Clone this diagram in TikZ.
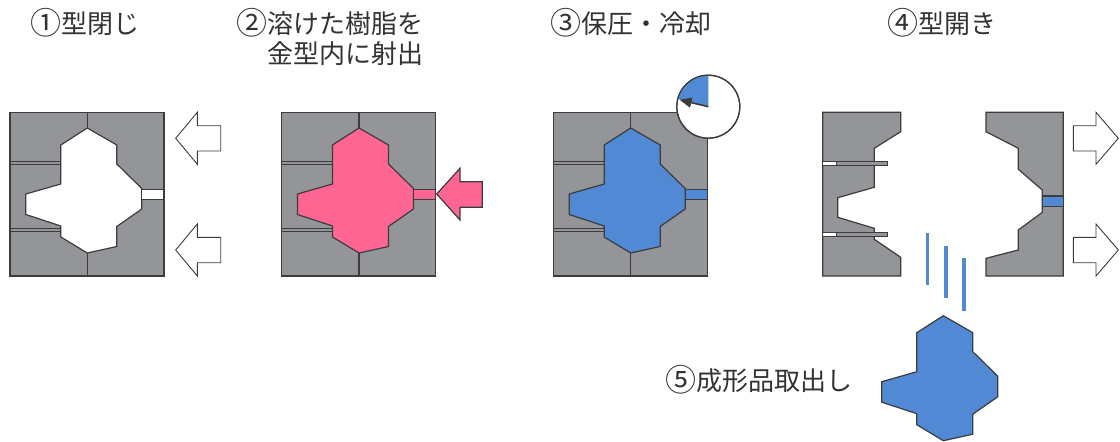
\documentclass[tikz,border=0pt]{standalone}
\usepackage{fontspec}
\newfontfamily\jp{Noto Sans CJK JP}
\usetikzlibrary{arrows.meta}
\definecolor{moldgray}{HTML}{939598}
\definecolor{edgegray}{HTML}{3C3C3C}
\definecolor{resin}{HTML}{FF6694}
\definecolor{cooled}{HTML}{5189D4}
\definecolor{txt}{HTML}{333333}

\tikzset{
  outline/.style={draw=edgegray, line width=1.2pt, line join=miter},
  moldbody/.style={outline, fill=moldgray},
  thinline/.style={draw=edgegray, line width=0.8pt},
  bigarrow/.style={draw=edgegray, line width=0.9pt, fill=white},
  lbl/.style={font=\jp\fontsize{26}{30}\selectfont, text=txt, inner sep=0pt},
}

% step number in a circle, set a little larger than the text
\newcommand\stepno[1]{{\fontsize{31}{30}\selectfont\raisebox{-1.2pt}{#1}}}

% closed mold: #1 = x of parting line, #2 = fill of cavity and gate
\newcommand\closedmold[2]{%
  \begin{scope}[shift={(#1,0)}]
    \fill[moldgray] (-77.3,112.3) rectangle (76.7,276);
    % ejector pin slots
    \filldraw[thinline, fill=moldgray] (-77.3,161) rectangle (-26.5,164.5);
    \filldraw[thinline, fill=moldgray] (-77.3,228) rectangle (-26.5,231.5);
    % cavity
    \filldraw[outline, fill=#2] (0,128) -- (29.5,145) -- (29.5,164) -- (54.5,188.5)
      -- (54.5,209) -- (29.5,226.5) -- (29.5,246.5) -- (0,253) -- (-26.5,237)
      -- (-26.5,226) -- (-61.5,214.5) -- (-61.5,194) -- (-26.5,184) -- (-26.5,145) -- cycle;
    % gate
    \filldraw[outline, fill=#2] (54.5,189.5) rectangle (76.7,199.3);
    % parting line
    \draw[outline] (0,112.3) -- (0,128);
    \draw[outline] (0,253) -- (0,276);
    \draw[outline] (-77.3,112.3) rectangle (76.7,276);
  \end{scope}}

\begin{document}
\begin{tikzpicture}[x=1pt, y=-1pt]
\useasboundingbox (0,0) rectangle (1120,442);

% ---- step titles
\node[lbl, anchor=base west] (t1) at (30,33) {\stepno{①}型閉じ};
\node[lbl, anchor=base east] (t2a) at (424,33) {\stepno{②}溶けた樹脂を};
\node[lbl, anchor=base east] (t2b) at (424,63.5) {金型内に射出};
\node[lbl, anchor=base west] (t3) at (550,33) {\stepno{③}保圧・冷却};
\node[lbl, anchor=base west] (t4) at (887,33) {\stepno{④}型開き};
\node[lbl, anchor=base west] (t5) at (665,390.5) {\stepno{⑤}成形品取出し};

% ---- 1: mold closing
\closedmold{87.3}{white}
\foreach \c in {138.3,250} {
  \filldraw[bigarrow] (175.7,\c) -- (197.3,\c-26) -- (197.3,\c-12.6) -- (220.7,\c-12.6)
    -- (220.7,\c+12.7) -- (197.3,\c+12.7) -- (197.3,\c+26) -- cycle;
}

% ---- 2: injection
\closedmold{359}{resin}
\filldraw[outline, fill=resin] (436.7,194) -- (460,168.3) -- (460,181.7) -- (482.3,181.7)
  -- (482.3,207.3) -- (460,207.3) -- (460,220) -- cycle;

% ---- 3: holding pressure and cooling
\closedmold{630.7}{cooled}
\coordinate (clk) at (708.3,106.7);
\filldraw[outline, fill=white] (clk) circle[radius=31.5];
\fill[cooled] (clk) -- ++(-90:31.5) arc[start angle=-90, end angle=-166, radius=31.5] -- cycle;
\draw[outline] (clk) circle[radius=31.5];
\draw[draw=edgegray, line width=1.6pt, -{Triangle[length=12pt, width=10pt]}] (clk) -- ++(-166.5:29.5);

% ---- 4: mold opening
% fixed half
\filldraw[moldbody] (822.7,112.3) -- (900.7,112.3) -- (900.7,131.7) -- (874.3,148.3)
  -- (874.3,187.3) -- (837.7,197.7) -- (837.7,217.3) -- (874.3,228.3) -- (874.3,239.3)
  -- (900.7,257.3) -- (900.7,276) -- (822.7,276) -- cycle;
% ejector pins pushed out
\foreach \p in {161.7,232.7} {
  \filldraw[thinline, fill=white] (822.7,\p) rectangle (836,\p+3.6);
  \filldraw[thinline, fill=moldgray] (836,\p) rectangle (887.3,\p+3.6);
}
% moving half
\filldraw[moldbody] (986,112.3) -- (1063.3,112.3) -- (1063.3,276) -- (986,276)
  -- (986,258.3) -- (1018.3,250) -- (1018.3,230) -- (1042.3,212.3) -- (1042.3,190)
  -- (1018.3,169.3) -- (1018.3,148.3) -- (986,131.7) -- cycle;
\filldraw[outline, fill=cooled] (1042.3,196) rectangle (1063.3,206.7);
\foreach \c in {138.3,250} {
  \filldraw[bigarrow] (1073.3,\c-12.6) -- (1096,\c-12.6) -- (1096,\c-26) -- (1118.3,\c)
    -- (1096,\c+26) -- (1096,\c+12.7) -- (1073.3,\c+12.7) -- cycle;
}

% ---- 5: part falling out
\fill[cooled] (925.7,233.3) rectangle (929.3,285);
\fill[cooled] (944,246) rectangle (947.7,298.3);
\fill[cooled] (962,258.3) rectangle (965.7,310.7);
\begin{scope}[shift={(943.3,187.7)}]
  \filldraw[outline, fill=cooled] (0,128) -- (29.5,145) -- (29.5,164) -- (54.5,188.5)
    -- (54.5,209) -- (29.5,226.5) -- (29.5,246.5) -- (0,253) -- (-26.5,237)
    -- (-26.5,226) -- (-61.5,214.5) -- (-61.5,194) -- (-26.5,184) -- (-26.5,145) -- cycle;
\end{scope}
\end{tikzpicture}
\end{document}
